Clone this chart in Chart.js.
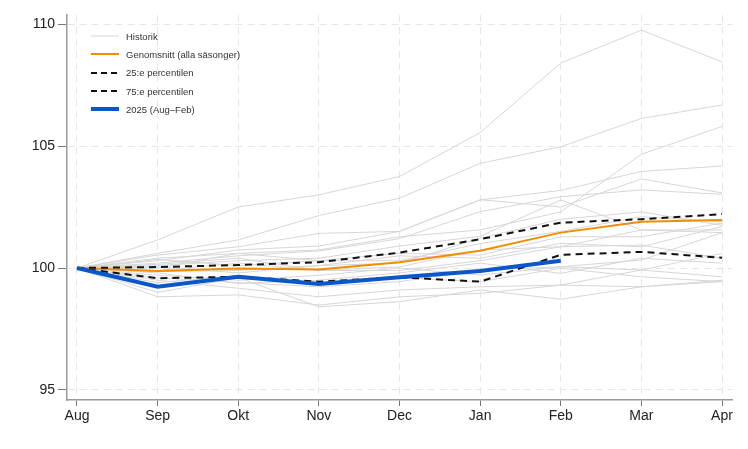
<!DOCTYPE html>
<html>
<head>
<meta charset="utf-8">
<script src="https://cdn.jsdelivr.net/npm/chart.js@4/dist/chart.umd.min.js"></script>
<style>
  html, body { margin: 0; padding: 0; background: #fff; }
  #wrap { position: relative; width: 748px; height: 449px; }
  #legend { position: absolute; left: 90px; top: 27px; font-family: "Liberation Sans", Arial, sans-serif; font-size: 9.5px; color: #333; }
  #legend .row { height: 18.3px; display: flex; align-items: center; }
  #legend svg { margin-right: 6px; }
</style>
</head>
<body>
<div id="wrap">
  <canvas id="chart" width="748" height="449"></canvas>
  <div id="legend"></div>
</div>
<script>
var months = ["Aug", "Sep", "Okt", "Nov", "Dec", "Jan", "Feb", "Mar", "Apr"];
var yTicks = [95, 100, 105, 110];

// historiska säsonger (grå linjer)
var seasons = [
  [100, 101.15, 102.5, 103.0, 103.75, 105.55, 108.4, 109.75, 108.45],
  [100, 100.6, 101.15, 102.15, 102.86, 104.29, 104.97, 106.13, 106.68],
  [100, 100.4, 100.6, 100.74, 101.28, 101.56, 102.3, 104.66, 105.8],
  [100, 100.53, 100.87, 101.42, 101.5, 102.79, 103.18, 103.96, 104.18],
  [100, 100.3, 100.74, 100.9, 101.5, 102.8, 102.5, 103.65, 103.08],
  [100, 100.2, 100.5, 100.7, 101.2, 102.31, 102.92, 103.2, 103.02],
  [100, 100.1, 100.3, 100.4, 100.9, 101.3, 102.79, 101.56, 101.45],
  [100, 100.35, 100.1, 100.3, 100.6, 100.53, 101.28, 101.28, 101.84],
  [100, 100.05, 99.8, 100.1, 100.5, 100.4, 101.01, 100.87, 101.7],
  [100, 99.9, 100.2, 99.9, 100.05, 100.74, 100.87, 101.56, 101.56],
  [100, 99.7, 99.5, 99.7, 100.0, 99.71, 100.05, 100.33, 101.45],
  [100, 99.6, 99.4, 99.23, 99.44, 99.92, 100.05, 99.92, 100.6],
  [100, 99.8, 99.37, 99.5, 99.8, 100.2, 99.78, 100.4, 100.2],
  [100, 99.5, 99.17, 98.82, 99.1, 99.23, 99.3, 99.92, 99.64],
  [100, 98.82, 98.9, 98.48, 98.82, 98.96, 99.3, 99.23, 99.5],
  [100, 99.0, 99.6, 98.41, 98.62, 99.1, 98.72, 99.23, 99.44],
  [100, 100.0, 100.6, 100.3, 100.3, 101.0, 101.5, 102.1, 101.9],
  [100, 99.85, 99.9, 100.1, 100.2, 101.22, 102.0, 102.3, 101.75],
  [100, 100.15, 100.4, 99.9, 99.9, 100.3, 100.87, 100.94, 100.4],
  [100, 99.4, 99.7, 99.4, 99.6, 99.44, 99.99, 99.64, 99.44]
];
var average = [100, 99.88, 99.98, 99.94, 100.24, 100.71, 101.45, 101.9, 101.97];
var p25 = [100, 99.58, 99.64, 99.44, 99.62, 99.44, 100.54, 100.66, 100.42];
var p75 = [100, 100.04, 100.12, 100.24, 100.63, 101.18, 101.86, 102.0, 102.21];
var current = [100, 99.23, 99.64, 99.34, 99.62, 99.88, 100.3];

function pts(arr) {
  return arr.map(function (v, i) { return { x: i, y: v }; });
}

var datasets = [];
seasons.forEach(function (h, i) {
  datasets.push({ label: i === 0 ? "Historik" : "", data: pts(h), borderColor: "#d6d6d6", borderWidth: 1, order: 3 });
});
datasets.push({ label: "Genomsnitt (alla säsonger)", data: pts(average), borderColor: "#f28c00", borderWidth: 2, order: 2 });
datasets.push({ label: "25:e percentilen", data: pts(p25), borderColor: "#111", borderWidth: 2, borderDash: [7, 5], order: 1 });
datasets.push({ label: "75:e percentilen", data: pts(p75), borderColor: "#111", borderWidth: 2, borderDash: [7, 5], order: 1 });
datasets.push({ label: "2025 (Aug–Feb)", data: pts(current), borderColor: "#0a57c9", borderWidth: 4, order: 0 });

var tickFont = { family: "Liberation Sans", size: 14 };

new Chart(document.getElementById("chart"), {
  type: "line",
  data: { datasets: datasets },
  options: {
    responsive: false,
    animation: false,
    layout: { padding: { top: 15, right: 16, left: 0, bottom: 0 } },
    elements: { point: { radius: 0 }, line: { tension: 0 } },
    plugins: { legend: { display: false }, tooltip: { enabled: false } },
    scales: {
      x: {
        type: "linear",
        min: -0.124,
        max: 8.124,
        afterBuildTicks: function (s) { s.ticks = months.map(function (m, i) { return { value: i }; }); },
        afterFit: function (s) { s.height = 49; },
        ticks: { font: tickFont, color: "#222", padding: 2, maxRotation: 0, autoSkip: false,
                 callback: function (v) { return months[v]; } },
        grid: { color: "#e6e6e6", lineWidth: 1, tickLength: 6, tickColor: "#777", tickBorderDash: [] },
        border: { color: "#999", width: 1.5, dash: [7, 5] }
      },
      y: {
        min: 94.59,
        max: 110.37,
        afterBuildTicks: function (s) { s.ticks = yTicks.map(function (v) { return { value: v }; }); },
        afterFit: function (s) { s.width = 67; },
        ticks: { font: tickFont, color: "#222", padding: 3 },
        grid: { color: "#e6e6e6", lineWidth: 1, tickLength: 9, tickColor: "#777", tickBorderDash: [] },
        border: { color: "#999", width: 1.5, dash: [7, 5] }
      }
    }
  }
});

// legend
var legend = document.getElementById("legend");
datasets.filter(function (d) { return d.label; }).forEach(function (d) {
  var row = document.createElement("div");
  row.className = "row";
  var dash = d.borderDash ? ' stroke-dasharray="6,4"' : "";
  row.innerHTML = '<svg width="30" height="8"><line x1="1" y1="4" x2="29" y2="4" stroke="' + d.borderColor +
    '" stroke-width="' + d.borderWidth + '"' + dash + '/></svg><span>' + d.label + '</span>';
  legend.appendChild(row);
});
</script>
</body>
</html>
